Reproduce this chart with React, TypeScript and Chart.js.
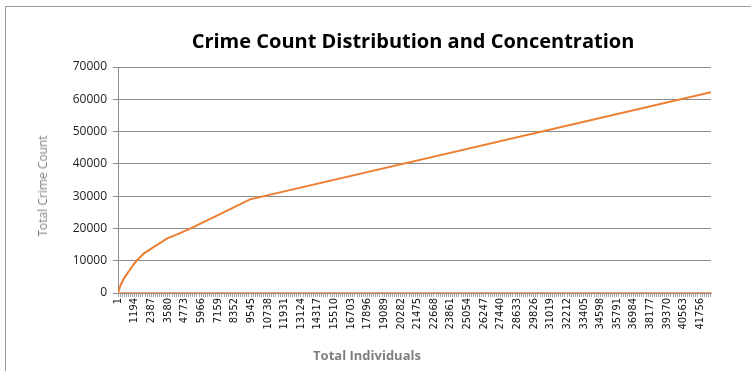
import React, { useEffect, useRef } from 'react';
import { Chart, registerables } from 'chart.js';

Chart.register(...registerables);

// Cumulative crime count by ranked individual
const individuals = [1, 194, 430, 790, 1270, 1865, 2580, 3540, 4376, 5215, 6840, 9470, 42540];
const crimeTotals = [0, 2480, 4550, 6800, 9700, 12300, 14300, 16900, 18400, 20000, 23400, 29000, 62200];

// Second (flat) series along zero
const baselineIndividuals = [1, 42540];
const baselineValues = [0, 0];

const xTickLabels = [
  1, 1194, 2387, 3580, 4773, 5966, 7159, 8352, 9545, 10738, 11931, 13124, 14317, 15510,
  16703, 17896, 19089, 20282, 21475, 22668, 23861, 25054, 26247, 27440, 28633, 29826,
  31019, 32212, 33405, 34598, 35791, 36984, 38177, 39370, 40563, 41756,
];
const yTickValues = [0, 10000, 20000, 30000, 40000, 50000, 60000, 70000];

const X_MIN = 1;
const X_MAX = 42540;

const chartTitle = 'Crime Count Distribution and Concentration';
const xTitle = 'Total Individuals';
const yTitle = 'Total Crime Count';

const MINOR_PER_LABEL = 8;

function buildXTicks() {
  const out: { value: number; label: boolean }[] = [];
  for (let i = 0; i < xTickLabels.length; i++) {
    const a = xTickLabels[i];
    const b = i + 1 < xTickLabels.length ? xTickLabels[i + 1] : X_MAX;
    out.push({ value: a, label: true });
    const step = (xTickLabels[1] - xTickLabels[0]) / MINOR_PER_LABEL;
    for (let v = a + step; v < b - 0.5 && v <= X_MAX; v += step) {
      out.push({ value: v, label: false });
    }
  }
  return out;
}

export default function App() {
  const canvasRef = useRef<HTMLCanvasElement | null>(null);

  useEffect(() => {
    const canvas = canvasRef.current;
    if (!canvas) return;
    const xTicks = buildXTicks();
    const labelSet = new Set(xTickLabels);

    const chart = new Chart(canvas, {
      type: 'line',
      data: {
        datasets: [
          {
            label: 'Baseline',
            data: baselineIndividuals.map((x, i) => ({ x, y: baselineValues[i] })),
            borderColor: '#F2A36E',
            borderWidth: 2,
            pointRadius: 0,
            fill: false,
          },
          {
            label: 'Total Crime Count',
            data: individuals.map((x, i) => ({ x, y: crimeTotals[i] })),
            borderColor: '#ED7D31',
            borderWidth: 2,
            pointRadius: 0,
            fill: false,
            tension: 0,
          },
        ],
      },
      options: {
        animation: false,
        responsive: false,
        maintainAspectRatio: false,
        layout: { padding: { left: 0, right: 40, top: 67, bottom: 0 } },
        plugins: {
          legend: { display: false },
          tooltip: { enabled: false },
          title: { display: false },
        },
        scales: {
          x: {
            type: 'linear',
            min: X_MIN,
            max: X_MAX,
            afterBuildTicks: (s: any) => {
              s.ticks = xTicks.map((t) => ({ value: t.value }));
            },
            afterFit: (s: any) => {
              s.height = 78;
            },
            ticks: {
              autoSkip: false,
              minRotation: 90,
              maxRotation: 90,
              padding: 1,
              color: '#111',
              font: { family: '"Liberation Sans Narrow", "DejaVu Sans Condensed", sans-serif', size: 11 },
              callback: (v: any) => {
                const r = Math.round(Number(v));
                return labelSet.has(r) && Math.abs(r - Number(v)) < 0.01 ? String(r) : '';
              },
            },
            grid: { drawOnChartArea: false, tickLength: 4, color: '#a6a6a6', lineWidth: 1 },
            border: { color: '#8c8c8c' },
          },
          y: {
            min: 0,
            max: 70000,
            afterBuildTicks: (s: any) => {
              s.ticks = yTickValues.map((v) => ({ value: v }));
            },
            afterFit: (s: any) => {
              s.width = 118;
            },
            ticks: {
              padding: 6,
              color: '#222',
              font: { family: '"Open Sans", sans-serif', size: 12 },
              callback: (v: any) => String(v),
            },
            grid: { color: '#8c8c8c', tickLength: 5, lineWidth: 1 },
            border: { color: '#8c8c8c' },
          },
        },
      },
    } as any);

    return () => chart.destroy();
  }, []);

  const textBase: React.CSSProperties = {
    position: 'absolute',
    whiteSpace: 'nowrap',
    lineHeight: 1,
    transform: 'translate(-50%, -50%)',
  };

  return (
    <div
      style={{
        position: 'fixed',
        left: 0,
        top: 0,
        width: 751,
        height: 371,
        overflow: 'hidden',
        background: '#fff',
      }}
    >
      <div
        style={{
          position: 'absolute',
          left: 5,
          top: 6,
          width: 800,
          height: 400,
          border: '1px solid #9a9a9a',
        }}
      />
      <canvas
        ref={canvasRef}
        width={751}
        height={371}
        style={{ position: 'absolute', left: 0, top: 0, width: 751, height: 371 }}
      />
      <div
        style={{
          ...textBase,
          left: 413,
          top: 41,
          fontFamily: '"Open Sans", sans-serif',
          fontWeight: 700,
          fontSize: 20,
          color: '#000',
        }}
      >
        {chartTitle}
      </div>
      <div
        style={{
          ...textBase,
          left: 367,
          top: 355,
          fontFamily: '"Open Sans", sans-serif',
          fontWeight: 700,
          fontSize: 13,
          color: '#808080',
        }}
      >
        {xTitle}
      </div>
      <div
        style={{
          ...textBase,
          left: 43,
          top: 186,
          transform: 'translate(-50%, -50%) rotate(-90deg)',
          fontFamily: '"Open Sans", sans-serif',
          fontSize: 12,
          color: '#808080',
        }}
      >
        {yTitle}
      </div>
    </div>
  );
}
